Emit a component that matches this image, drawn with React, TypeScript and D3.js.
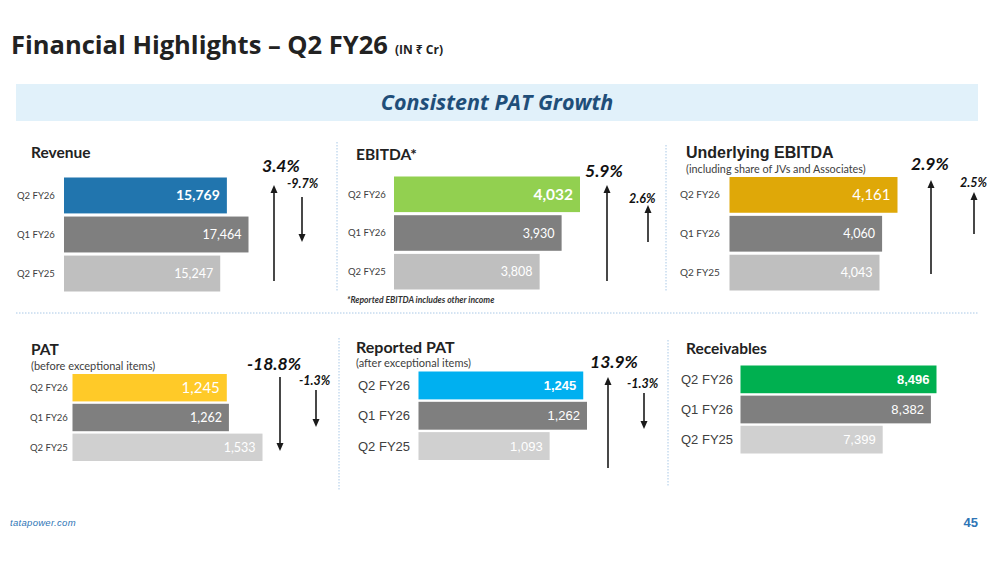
import { scaleBand, scaleLinear, format } from "d3";

const categories = ["Q2 FY26", "Q1 FY26", "Q2 FY25"];
const revenueValues = [15769, 17464, 15247];
const ebitdaValues = [4032, 3930, 3808];
const underlyingValues = [4161, 4060, 4043];
const patValues = [1245, 1262, 1533];
const reportedPatValues = [1245, 1262, 1093];
const receivableValues = [8496, 8382, 7399];

// yoy / qoq change labels, per panel
const revenueChanges = [3.4, -9.7];
const ebitdaChanges = [5.9, 2.6];
const underlyingChanges = [2.9, 2.5];
const patChanges = [-18.8, -1.3];
const reportedPatChanges = [13.9, -1.3];

const CALIBRI = "Lato, 'Noto Sans', sans-serif";
const ARIAL = "'Liberation Sans', Arial, sans-serif";
const SEGOE = "'Open Sans', 'Noto Sans', sans-serif";
const fmt = format(",");

interface Arrow {
  value: number;
  size: number;
  tx: number;
  ty: number;
  ax: number;
  y1: number; // tail
  y2: number; // tip
}

interface Panel {
  title: string;
  subtitle?: string;
  values: number[];
  domainMin: number;
  xRange: [number, number];
  yRange: [number, number];
  colors: string[];
  font: string;
  catX: number;
  catSize: number;
  bigSize: number;
  smallSize: number;
  bigBold: boolean;
  titleY: number;
  subY?: number;
  subSize?: number;
  titleX: number;
  titleFont: string;
  titleSize: number;
  arrows: Arrow[];
}

const changeArrows = (vals: number[], geo: Omit<Arrow, "value">[]) =>
  vals.map((v, i) => ({ value: v, ...geo[i] }));

const panels: Panel[] = [
  {
    title: "Revenue",
    values: revenueValues,
    domainMin: 3000,
    xRange: [64, 248.5],
    yRange: [177.5, 291.5],
    colors: ["#2175ae", "#7f7f7f", "#bfbfbf"],
    font: CALIBRI,
    catX: 17,
    catSize: 9.5,
    bigSize: 14,
    smallSize: 12.5,
    bigBold: true,
    titleX: 31,
    titleY: 158,
    titleFont: CALIBRI,
    titleSize: 15.5,
    arrows: changeArrows(revenueChanges, [
      { size: 17.5, tx: 262, ty: 172, ax: 274, y1: 281, y2: 185 },
      { size: 12.5, tx: 287, ty: 188, ax: 302, y1: 197, y2: 242 },
    ]),
  },
  {
    title: "EBITDA*",
    values: ebitdaValues,
    domainMin: 3000,
    xRange: [394, 580],
    yRange: [176.5, 289.5],
    colors: ["#92d050", "#7f7f7f", "#bfbfbf"],
    font: CALIBRI,
    catX: 348,
    catSize: 9.5,
    bigSize: 15.5,
    smallSize: 12.5,
    bigBold: true,
    titleX: 356,
    titleY: 160,
    titleFont: CALIBRI,
    titleSize: 15.5,
    arrows: changeArrows(ebitdaChanges, [
      { size: 17.5, tx: 585, ty: 177, ax: 607, y1: 281, y2: 185 },
      { size: 12.5, tx: 629, ty: 203, ax: 648, y1: 242, y2: 205 },
    ]),
  },
  {
    title: "Underlying EBITDA",
    subtitle: "(including share of JVs and Associates)",
    values: underlyingValues,
    domainMin: 3060,
    xRange: [729.5, 897.5],
    yRange: [177, 290.5],
    colors: ["#dfa808", "#7f7f7f", "#bfbfbf"],
    font: CALIBRI,
    catX: 680,
    catSize: 10,
    bigSize: 15,
    smallSize: 12.5,
    bigBold: false,
    titleX: 686,
    titleY: 158,
    subY: 173,
    subSize: 10.8,
    titleFont: ARIAL,
    titleSize: 16,
    arrows: changeArrows(underlyingChanges, [
      { size: 17.5, tx: 911, ty: 170, ax: 931, y1: 274, y2: 180 },
      { size: 12.5, tx: 960, ty: 187, ax: 974, y1: 234, y2: 192 },
    ]),
  },
  {
    title: "PAT",
    subtitle: "(before exceptional items)",
    values: patValues,
    domainMin: 0,
    xRange: [72.5, 262.5],
    yRange: [374, 461],
    colors: ["#ffca28", "#7f7f7f", "#d0d0d0"],
    font: CALIBRI,
    catX: 30,
    catSize: 9.5,
    bigSize: 15,
    smallSize: 12.5,
    bigBold: false,
    titleX: 31,
    titleY: 355,
    subY: 369.5,
    titleFont: CALIBRI,
    titleSize: 15.5,
    arrows: changeArrows(patChanges, [
      { size: 17.5, tx: 247, ty: 370, ax: 280, y1: 377, y2: 451 },
      { size: 12.5, tx: 299, ty: 385, ax: 316, y1: 390, y2: 427 },
    ]),
  },
  {
    title: "Reported PAT",
    subtitle: "(after exceptional items)",
    values: reportedPatValues,
    domainMin: 500,
    xRange: [418.5, 587],
    yRange: [371.5, 460],
    colors: ["#00b0f0", "#7f7f7f", "#d0d0d0"],
    font: ARIAL,
    catX: 358,
    catSize: 13,
    bigSize: 13,
    smallSize: 13,
    bigBold: true,
    titleX: 356,
    titleY: 353,
    subY: 367,
    titleFont: CALIBRI,
    titleSize: 16,
    arrows: changeArrows(reportedPatChanges, [
      { size: 17.5, tx: 590, ty: 368, ax: 608, y1: 468, y2: 377 },
      { size: 12.5, tx: 627, ty: 388, ax: 644, y1: 393, y2: 429 },
    ]),
  },
  {
    title: "Receivables",
    values: receivableValues,
    domainMin: 4500,
    xRange: [740.5, 936.5],
    yRange: [365.5, 453.5],
    colors: ["#00b050", "#7f7f7f", "#d0d0d0"],
    font: ARIAL,
    catX: 681,
    catSize: 13,
    bigSize: 13,
    smallSize: 13,
    bigBold: true,
    titleX: 686,
    titleY: 354,
    titleFont: CALIBRI,
    titleSize: 15.5,
    arrows: [],
  },
];

const vDividers = [
  { x: 337, y1: 142, y2: 291 },
  { x: 666, y1: 145, y2: 292 },
  { x: 339, y1: 338, y2: 490 },
  { x: 668, y1: 340, y2: 486 },
];

const PanelChart = ({ p }: { p: Panel }) => {
  const maxV = Math.max(...p.values);
  const x = scaleLinear().domain([p.domainMin, maxV]).range(p.xRange);
  const y = scaleBand<string>().domain(categories).range(p.yRange).paddingInner(0.08);
  const bw = y.bandwidth();
  return (
    <g>
      <text x={p.titleX} y={p.titleY} fontFamily={p.titleFont} fontWeight="bold" fontSize={p.titleSize} fill="#222">
        {p.title}
      </text>
      {p.subtitle ? (
        <text x={p.titleX} y={p.subY} fontFamily={CALIBRI} fontSize={p.subSize ?? 11} fill="#404040">
          {p.subtitle}
        </text>
      ) : null}
      {categories.map((c, i) => {
        const yy = y(c)!;
        const big = i === 0;
        return (
          <g key={c}>
            <rect x={p.xRange[0]} y={yy} width={x(p.values[i]) - p.xRange[0]} height={bw} fill={p.colors[i]} />
            <text x={p.catX} y={yy + bw / 2} dy="0.35em" fontFamily={p.font} fontSize={p.catSize} fill="#404040">
              {c}
            </text>
            <text
              x={x(p.values[i]) - 7}
              y={yy + bw / 2}
              dy="0.36em"
              textAnchor="end"
              fontFamily={p.font}
              fontSize={big ? p.bigSize : p.smallSize}
              fontWeight={big && p.bigBold ? "bold" : "normal"}
              fill="#ffffff"
            >
              {fmt(p.values[i])}
            </text>
          </g>
        );
      })}
      {p.arrows.map((a, i) => (
        <g key={i}>
          <text x={a.tx} y={a.ty} fontFamily={CALIBRI} fontStyle="italic" fontWeight="bold" fontSize={a.size} fill="#111">
            {`${a.value.toFixed(1)}%`}
          </text>
          <line
            x1={a.ax}
            x2={a.ax}
            y1={a.y1}
            y2={a.y2 + (a.y2 < a.y1 ? 7 : -7)}
            stroke="#1a1a1a"
            strokeWidth={1.6}
          />
          <path
            d={
              a.y2 < a.y1
                ? `M${a.ax - 3.5},${a.y2 + 8}L${a.ax},${a.y2}L${a.ax + 3.5},${a.y2 + 8}Z`
                : `M${a.ax - 3.5},${a.y2 - 8}L${a.ax},${a.y2}L${a.ax + 3.5},${a.y2 - 8}Z`
            }
            fill="#1a1a1a"
          />
        </g>
      ))}
    </g>
  );
};

export default function App() {
  return (
    <svg
      width={1000}
      height={563}
      style={{ position: "absolute", left: 0, top: 0, display: "block", background: "#fff" }}
    >
      <rect width={1000} height={563} fill="#ffffff" />
      <text x={11} y={54} fontFamily={SEGOE} fontWeight="bold" fontSize={25.5} fill="#222">
        Financial Highlights – Q2 FY26
        <tspan fontSize={12} dx={7}>(IN ₹ Cr)</tspan>
      </text>
      <rect x={16} y={84} width={962} height={37} fill="#e1f1fa" />
      <text x={497} y={110} textAnchor="middle" fontFamily={SEGOE} fontStyle="italic" fontWeight="bold" fontSize={21.5} fill="#1f4e79">
        Consistent PAT Growth
      </text>
      <line x1={16} x2={978} y1={313} y2={313} stroke="#a9c8e6" strokeWidth={1} strokeDasharray="1.5,1.5" />
      {vDividers.map((d, i) => (
        <line key={i} x1={d.x} x2={d.x} y1={d.y1} y2={d.y2} stroke="#a9c8e6" strokeWidth={1} strokeDasharray="1.5,1.5" />
      ))}
      {panels.map((p) => (
        <PanelChart key={p.title} p={p} />
      ))}
      <text x={347} y={303} fontFamily={CALIBRI} fontStyle="italic" fontWeight="bold" fontSize={8.6} fill="#333">
        *Reported EBITDA includes other income
      </text>
      <text x={10} y={526} fontFamily="'Liberation Sans Narrow', 'Liberation Sans', sans-serif" fontStyle="italic" fontSize={9.5} fill="#2e75b6" letterSpacing={0.3}>
        tatapower.com
      </text>
      <text x={978} y={527} textAnchor="end" fontFamily="'Liberation Sans Narrow', 'Liberation Sans', sans-serif" fontWeight="bold" fontSize={13} fill="#2e75b6">
        45
      </text>
    </svg>
  );
}
